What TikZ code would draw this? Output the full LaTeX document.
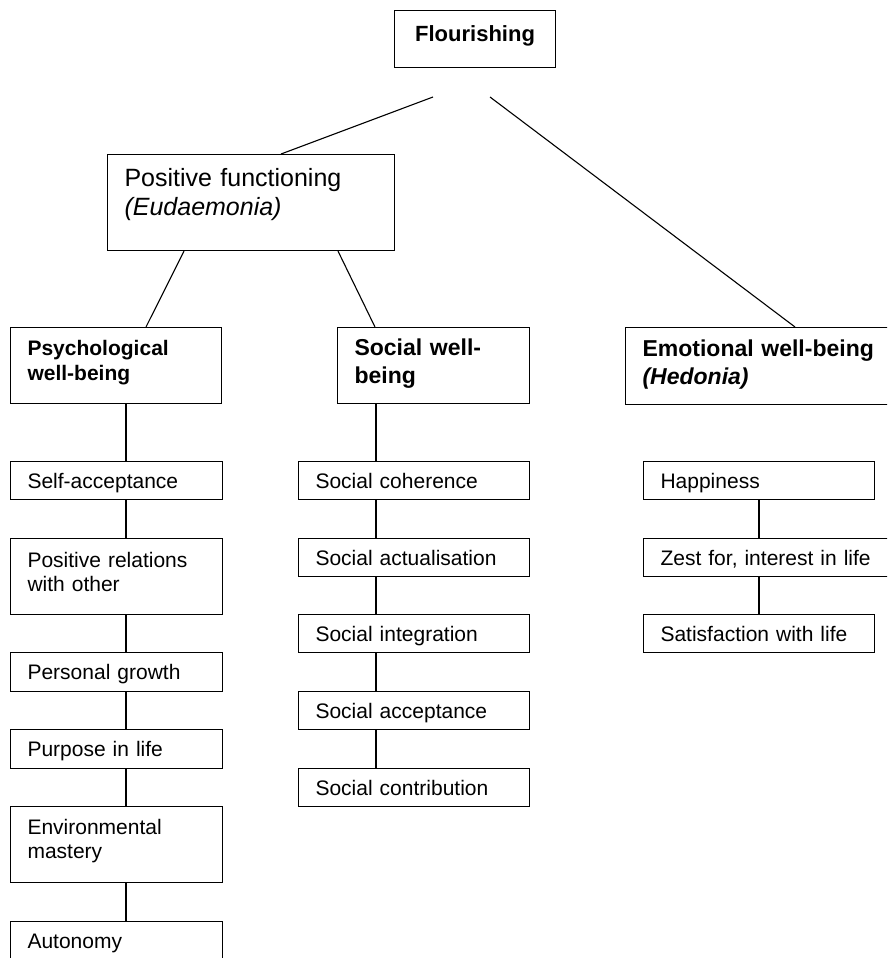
\documentclass[tikz,border=0pt]{standalone}
\usepackage{fontspec}
\setmainfont{Liberation Sans}

\begin{document}
\begin{tikzpicture}[x=1pt, y=-1pt,
	box/.style={draw, line width=1.1pt, anchor=north west, inner xsep=17pt, inner ysep=0pt, align=left, font=\fontsize{21}{24}\selectfont, execute at begin node={\rule{0pt}{20pt}}, execute at end node={\rule[-4pt]{0pt}{4pt}}},
	head/.style={box, font=\fontsize{23}{28}\selectfont\bfseries},
	lift/.style={execute at end node={\rule[-#1]{0pt}{#1}}},
	link/.style={line width=1.1pt}]
					\clip (0,0) rectangle (887,958);
					%\draw [help lines] (0,0) grid (887,958);
					\node [box, lift=15pt, align=center, text width=127pt, minimum height=57pt, font=\fontsize{22}{26}\selectfont\bfseries] (flour) at (394,10) {Flourishing};
					\coordinate (f1) at (433,97);
					\coordinate (f2) at (490,97);
					\node [box, lift=23pt, text width=253pt, minimum height=96pt, font=\fontsize{25}{29}\selectfont] (posfun) at (107,154) {Positive functioning\\\textit{(Eudaemonia)}};
					%Livello 2
					\node [head, lift=15pt, text width=177pt, minimum height=76pt, font=\fontsize{21}{25}\selectfont\bfseries] (psych) at (10,327) {Psychological\\well-being};
					\node [head, lift=12pt, text width=158pt, minimum height=76pt] (social) at (337,327) {Social well-\\being};
					\node [head, lift=11pt, text width=241pt, minimum height=77pt] (emot) at (625,327) {Emotional well-being\\\textit{(Hedonia)}};
					\draw [link] (f1) -- ([xshift=30pt]posfun.north);
					\draw [link] (f2) -- ([xshift=170pt]emot.north west);
					\draw [link] ([xshift=77pt]posfun.south west) -- ([xshift=136pt]psych.north west);
					\draw [link] ([xshift=231pt]posfun.south west) -- ([xshift=38pt]social.north west);
					%Psychological
					\coordinate (pline) at (126,0);
					\node [box, text width=178pt, minimum height=38pt] (selfacc) at (10,461) {Self-acceptance};
					\node [box, lift=14pt, text width=178pt, minimum height=76pt] (posrel) at (10,538) {Positive relations\\with other};
					\node [box, text width=178pt, minimum height=39pt] (growth) at (10,652) {Personal growth};
					\node [box, text width=178pt, minimum height=39pt] (purpose) at (10,729) {Purpose in life};
					\node [box, lift=16pt, text width=178pt, minimum height=76pt] (envmast) at (10,806) {Environmental\\mastery};
					\node [box, text width=178pt, minimum height=38pt] (auton) at (10,921) {Autonomy};
					\draw [link] (psych.south -| pline) -- (selfacc.north -| pline);
					\draw [link] (selfacc.south -| pline) -- (posrel.north -| pline);
					\draw [link] (posrel.south -| pline) -- (growth.north -| pline);
					\draw [link] (growth.south -| pline) -- (purpose.north -| pline);
					\draw [link] (purpose.south -| pline) -- (envmast.north -| pline);
					\draw [link] (envmast.south -| pline) -- (auton.north -| pline);
					%Social
					\coordinate (sline) at (376,0);
					\node [box, text width=197pt, minimum height=38pt] (coher) at (298,461) {Social coherence};
					\node [box, text width=197pt, minimum height=38pt] (actual) at (298,538) {Social actualisation};
					\node [box, text width=197pt, minimum height=38pt] (integr) at (298,614) {Social integration};
					\node [box, text width=197pt, minimum height=38pt] (accept) at (298,691) {Social acceptance};
					\node [box, text width=197pt, minimum height=38pt] (contrib) at (298,768) {Social contribution};
					\draw [link] (social.south -| sline) -- (coher.north -| sline);
					\draw [link] (coher.south -| sline) -- (actual.north -| sline);
					\draw [link] (actual.south -| sline) -- (integr.north -| sline);
					\draw [link] (integr.south -| sline) -- (accept.north -| sline);
					\draw [link] (accept.south -| sline) -- (contrib.north -| sline);
					%Emotional
					\coordinate (eline) at (759,0);
					\node [box, text width=197pt, minimum height=38pt] (happy) at (643,461) {Happiness};
					\node [box, text width=223pt, minimum height=38pt] (zest) at (643,538) {Zest for, interest in life};
					\node [box, text width=197pt, minimum height=38pt] (satisf) at (643,614) {Satisfaction with life};
					\draw [link] (happy.south -| eline) -- (zest.north -| eline);
					\draw [link] (zest.south -| eline) -- (satisf.north -| eline);
\end{tikzpicture}
\end{document}
